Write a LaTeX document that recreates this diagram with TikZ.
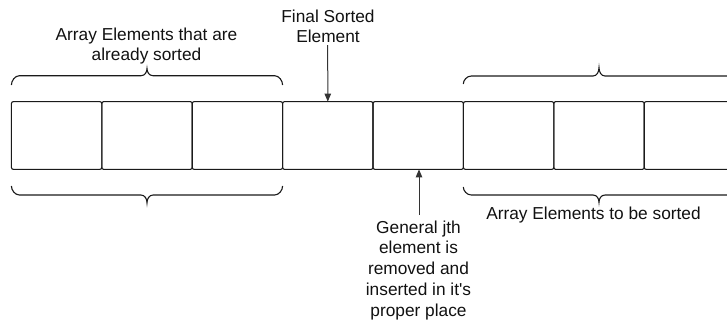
\documentclass[tikz,border=0pt]{standalone}
\usepackage{fontspec}
\setmainfont{Liberation Sans}
\usetikzlibrary{arrows.meta}
\definecolor{linec}{HTML}{1A1A1A}
\definecolor{arrc}{HTML}{333333}
\definecolor{txtc}{HTML}{111111}
\tikzset{
  cell/.style={draw=linec, line width=1.1bp, rounded corners=2bp, minimum width=90.4bp, minimum height=67.8bp, inner sep=0pt, outer sep=0pt},
  lbl/.style={font=\fontsize{17.3bp}{20.7bp}\selectfont, text=txtc, align=center, inner sep=0pt, anchor=north},
  bracec/.style={draw=linec, line width=1.1bp},
  arr/.style={draw=arrc, line width=1bp, -{Triangle[length=8bp,width=6.5bp]}}
}
% #1 x-left, #2 x-center, #3 x-right, #4 y-end, #5 y-line, #6 y-tip
\newcommand{\mybrace}[6]{%
  \draw[bracec] (#1,#4) .. controls (#1,{#5+0.55*(#4-#5)}) and ({#1+3.5},#5) .. ({#1+8},#5)
    -- ({#2-6},#5) .. controls ({#2-2},#5) and (#2,{#5+0.5*(#6-#5)}) .. (#2,#6)
    .. controls (#2,{#5+0.5*(#6-#5)}) and ({#2+2},#5) .. ({#2+6},#5)
    -- ({#3-8},#5) .. controls ({#3-3.5},#5) and (#3,{#5+0.55*(#4-#5)}) .. (#3,#4);}
\begin{document}
\begin{tikzpicture}[x=1bp,y=-1bp]
\useasboundingbox (0,0) rectangle (727,321);
\clip (0,0) rectangle (727,321);
% cells
\foreach \i in {1,...,8}{
  \node[cell] (c\i) at ({11.4+45.2+90.4*(\i-1)},135.5) {};
}
% braces
\mybrace{11.4}{147}{282.6}{85}{75.7}{68.5}
\mybrace{11.4}{147}{282.6}{186}{195}{203}
\mybrace{463.3}{599}{734.7}{84}{76}{67.5}
\mybrace{463.3}{599}{734.7}{187}{195}{202.5}
% labels
\node[lbl] (sortedlbl) at (146.5,27.5) {Array Elements that are\\already sorted};
\node[lbl] (finallbl) at (328,9.5) {Final Sorted\\Element};
\node[lbl] (jthlbl) at (418.5,220.5) {General jth\\element is\\removed and\\inserted in it\textquotesingle s\\proper place};
\node[lbl] (tobelbl) at (593.5,206.5) {Array Elements to be sorted};
% arrows
\coordinate (fa) at (327.7,45);
\coordinate (ja) at (419,215);
\draw[arr] (fa) -- (c4.north);
\draw[arr] (ja) -- (ja |- c5.south);
\end{tikzpicture}
\end{document}
